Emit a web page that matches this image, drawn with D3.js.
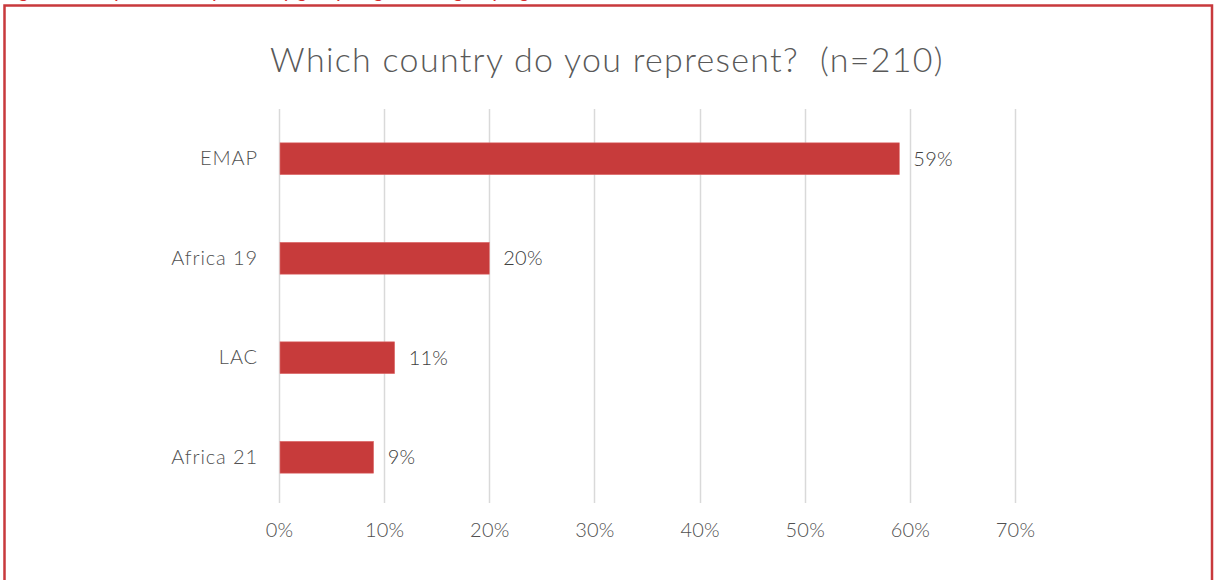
<!DOCTYPE html>
<html>
<head>
<meta charset="utf-8">
<script src="https://cdn.jsdelivr.net/npm/d3@7"></script>
<style>
  body { margin: 0; background: white; }
  #chart text { font-family: "Century Gothic", "Lato", sans-serif; font-weight: 300; }
</style>
</head>
<body>
<div id="chart"></div>
<script>
// data
var categories = ["EMAP", "Africa 19", "LAC", "Africa 21"];
var values = [59, 20, 11, 9];
var tickValues = [0, 10, 20, 30, 40, 50, 60, 70];
var titleText = "Which country do you represent?\u00a0\u00a0(n=210)";
var captionText = "Figure 3: Respondents by country group, region and grouping";

var W = 1214, H = 580;
var margin = { top: 109, right: 199, bottom: 73, left: 279 };
var width = W - margin.left - margin.right,
  height = H - margin.top - margin.bottom;

var svg = d3.select("#chart").append("svg")
  .attr("width", W)
  .attr("height", H)
  .style("display", "block");

// cut-off caption above the frame (only descenders show, as in the source)
svg.append("text")
  .attr("x", 4)
  .attr("y", -3)
  .style("font-style", "italic")
  .style("font-weight", 400)
  .style("font-size", "21px")
  .style("fill", "#d62c2c")
  .text(captionText);

// frame
svg.append("rect")
  .attr("x", 4.5)
  .attr("y", 5.5)
  .attr("width", 1207.5)
  .attr("height", 600)
  .style("fill", "none")
  .style("stroke", "#c8393c")
  .style("stroke-width", 2.5);

svg.append("text")
  .attr("x", 607)
  .attr("y", 72)
  .attr("text-anchor", "middle")
  .style("font-size", "34px")
  .style("letter-spacing", "1.3px")
  .style("fill", "#595959")
  .text(titleText);

var g = svg.append("g")
  .attr("transform", "translate(" + margin.left + "," + margin.top + ")");

var x = d3.scaleLinear().domain([0, 70]).range([0, width]);
var y = d3.scaleBand().domain(categories).range([0, height]).paddingInner(0.68).paddingOuter(0.34);

// gridlines
g.selectAll(".grid")
  .data(tickValues)
  .enter()
  .append("line")
  .attr("class", "grid")
  .attr("x1", function (d) { return Math.round(x(d)) + 0.5; })
  .attr("x2", function (d) { return Math.round(x(d)) + 0.5; })
  .attr("y1", 0)
  .attr("y2", height - 4)
  .style("stroke", "#d9d9d9")
  .style("stroke-width", 1.5);

// x axis labels
var xAxis = g.append("g")
  .attr("transform", "translate(0," + height + ")")
  .call(d3.axisBottom(x).tickValues(tickValues).tickSize(0).tickPadding(16)
    .tickFormat(function (d) { return d + "%"; }));
xAxis.select(".domain").remove();
xAxis.selectAll("text")
  .style("font-size", "20px")
  .style("letter-spacing", "0.2px")
  .style("fill", "#505050");

// y axis labels
var yAxis = g.append("g")
  .call(d3.axisLeft(y).tickSize(0).tickPadding(21));
yAxis.select(".domain").remove();
yAxis.selectAll("text")
  .style("font-size", "20px")
  .style("letter-spacing", "0.9px")
  .style("fill", "#505050");

// bars
g.selectAll(".bar")
  .data(categories)
  .enter()
  .append("rect")
  .attr("class", "bar")
  .attr("x", x(0) + 1)
  .attr("y", function (d) { return y(d); })
  .attr("width", function (d, i) { return x(values[i]) - 1; })
  .attr("height", y.bandwidth())
  .style("fill", "#c73b3b")
  .style("stroke", "#e07070")
  .style("stroke-width", 0.6);

// value labels
g.selectAll(".val")
  .data(categories)
  .enter()
  .append("text")
  .attr("class", "val")
  .attr("x", function (d, i) { return x(values[i]) + 14; })
  .attr("y", function (d) { return y(d) + y.bandwidth() / 2; })
  .attr("dy", "0.35em")
  .style("font-size", "20px")
  .style("letter-spacing", "0.2px")
  .style("fill", "#404040")
  .text(function (d, i) { return values[i] + "%"; });
</script>
</body>
</html>
